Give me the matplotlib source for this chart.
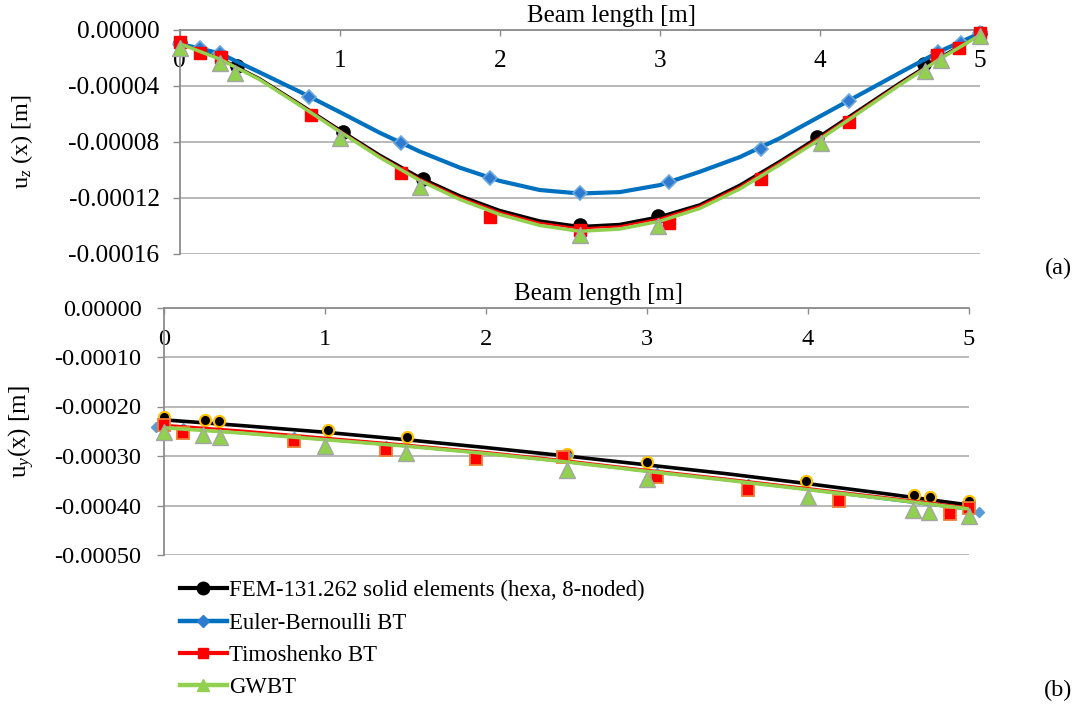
import matplotlib
matplotlib.use("Agg")
import matplotlib.pyplot as plt
from matplotlib.lines import Line2D
from matplotlib.ticker import FuncFormatter

plt.rcParams['font.family'] = ['Liberation Serif', 'DejaVu Serif']
plt.rcParams['mathtext.fontset'] = 'custom'
plt.rcParams['mathtext.rm'] = 'Liberation Serif'
plt.rcParams['mathtext.it'] = 'Liberation Serif:italic'

# ---------------- data: (a) u_z(x) ----------------
x_line_top = [0, 0.25, 0.5, 0.75, 1.0, 1.25, 1.5, 1.75, 2.0, 2.25, 2.5,
              2.75, 3.0, 3.25, 3.5, 3.75, 4.0, 4.25, 4.5, 4.75, 5.0]
fem_line_top = [-9.5e-6, -2.05e-5, -3.5e-5, -5.3e-5, -7.15e-5, -8.95e-5, -1.055e-4,
                -1.185e-4, -1.29e-4, -1.365e-4, -1.405e-4, -1.39e-4, -1.335e-4,
                -1.25e-4, -1.11e-4, -9.4e-5, -7.6e-5, -5.7e-5, -3.8e-5, -2.0e-5, -3.5e-6]
eb_line_top = [-1.0e-5, -1.69e-5, -3.05e-5, -4.43e-5, -5.88e-5, -7.36e-5, -8.7e-5,
               -9.85e-5, -1.08e-4, -1.145e-4, -1.17e-4, -1.16e-4, -1.11e-4, -1.015e-4,
               -9.1e-5, -7.76e-5, -6.2e-5, -4.64e-5, -3.08e-5, -1.55e-5, -2.6e-6]
tim_line_top = [-9.5e-6, -2.07e-5, -3.53e-5, -5.34e-5, -7.2e-5, -9.03e-5, -1.065e-4,
                -1.197e-4, -1.303e-4, -1.38e-4, -1.42e-4, -1.405e-4, -1.35e-4, -1.26e-4,
                -1.122e-4, -9.5e-5, -7.7e-5, -5.78e-5, -3.86e-5, -2.04e-5, -3.7e-6]
gw_line_top = [-1.0e-5, -2.1e-5, -3.57e-5, -5.4e-5, -7.28e-5, -9.12e-5, -1.077e-4,
               -1.212e-4, -1.32e-4, -1.398e-4, -1.44e-4, -1.424e-4, -1.368e-4, -1.277e-4,
               -1.138e-4, -9.65e-5, -7.84e-5, -5.9e-5, -3.95e-5, -2.1e-5, -4.0e-6]

fem_x_top = [0, 0.36, 1.02, 1.52, 2.50, 2.99, 3.98, 4.65, 5.0]
fem_uz = [-9.7e-6, -2.57e-5, -7.29e-5, -1.066e-4, -1.395e-4, -1.329e-4, -7.64e-5, -2.47e-5, -2.6e-6]
eb_x_top = [0, 0.125, 0.25, 0.81, 1.38, 1.94, 2.50, 3.06, 3.63, 4.18, 4.74, 4.88, 5.0]
eb_uz = [-1.0e-5, -1.29e-5, -1.69e-5, -4.79e-5, -8.11e-5, -1.061e-4, -1.169e-4, -1.09e-4,
         -8.52e-5, -5.09e-5, -1.57e-5, -9.7e-6, -2.6e-6]
tim_x_top = [0, 0.125, 0.26, 0.82, 1.38, 1.94, 2.5, 3.06, 3.63, 4.18, 4.73, 4.87, 5.0]
tim_uz = [-9e-6, -1.69e-5, -1.93e-5, -6.1e-5, -1.02e-4, -1.336e-4, -1.43e-4, -1.383e-4,
          -1.066e-4, -6.57e-5, -1.81e-5, -1.29e-5, -2.6e-6]
gw_x_top = [0, 0.25, 0.345, 1.0, 1.5, 2.5, 2.99, 4.01, 4.66, 4.76, 5.0]
gw_uz = [-1.3e-5, -2.4e-5, -3.07e-5, -7.76e-5, -1.12e-4, -1.47e-4, -1.40e-4, -8.11e-5,
         -2.95e-5, -2.16e-5, -4.7e-6]

# ---------------- data: (b) u_y(x) ----------------
x_line_bot = [0, 0.5, 1.0, 1.5, 2.0, 2.5, 3.0, 3.5, 4.0, 4.5, 5.0]
fem_line_bot = [-2.27e-4, -2.39e-4, -2.52e-4, -2.67e-4, -2.83e-4, -3.00e-4, -3.18e-4,
                -3.36e-4, -3.56e-4, -3.77e-4, -3.99e-4]
eb_line_bot = [-2.43e-4, -2.55e-4, -2.68e-4, -2.81e-4, -2.96e-4, -3.13e-4, -3.32e-4,
               -3.50e-4, -3.69e-4, -3.89e-4, -4.09e-4]
tim_line_bot = [-2.37e-4, -2.49e-4, -2.63e-4, -2.77e-4, -2.92e-4, -3.09e-4, -3.28e-4,
                -3.46e-4, -3.65e-4, -3.84e-4, -4.04e-4]
gw_line_bot = [-2.43e-4, -2.54e-4, -2.67e-4, -2.80e-4, -2.95e-4, -3.12e-4, -3.31e-4,
               -3.49e-4, -3.68e-4, -3.87e-4, -4.07e-4]

fem_x_bot = [0, 0.255, 0.34, 1.02, 1.51, 2.5, 3.0, 3.99, 4.66, 4.76, 5.0]
fem_uy = [-2.21e-4, -2.28e-4, -2.30e-4, -2.48e-4, -2.61e-4, -2.95e-4, -3.13e-4, -3.5e-4,
          -3.78e-4, -3.83e-4, -3.9e-4]
eb_x_bot = [-0.05, 0.12, 0.81, 1.38, 1.94, 2.5, 3.06, 3.63, 4.19, 4.88, 5.06]
eb_uy = [-2.41e-4, -2.43e-4, -2.61e-4, -2.79e-4, -2.97e-4, -2.98e-4, -3.35e-4, -3.57e-4,
         -3.81e-4, -4.08e-4, -4.13e-4]
tim_x_bot = [0, 0.12, 0.81, 1.38, 1.94, 2.48, 3.06, 3.63, 4.19, 4.88, 5.0]
tim_uy = [-2.37e-4, -2.53e-4, -2.7e-4, -2.88e-4, -3.07e-4, -3.03e-4, -3.43e-4, -3.68e-4,
          -3.9e-4, -4.17e-4, -4.05e-4]
gw_x_bot = [0, 0.245, 0.35, 1.0, 1.5, 2.5, 3.0, 4.0, 4.65, 4.75, 5.0]
gw_uy = [-2.52e-4, -2.57e-4, -2.61e-4, -2.8e-4, -2.93e-4, -3.28e-4, -3.47e-4, -3.83e-4,
         -4.1e-4, -4.13e-4, -4.21e-4]

x_ticks = [0, 1, 2, 3, 4, 5]
y_ticks_top = [0, -0.00004, -0.00008, -0.00012, -0.00016]
y_ticks_bot = [0, -0.0001, -0.0002, -0.0003, -0.0004, -0.0005]
legend_labels = ["FEM-131.262 solid elements (hexa, 8-noded)", "Euler-Bernoulli BT",
                 "Timoshenko BT", "GWBT"]
x_title = "Beam length [m]"

# ---------------- styling ----------------
C_BLACK = '#000000'
C_BLUE = '#0070C0'
C_BLUE_M = '#2E7BCF'
C_RED = '#FF0000'
C_GREEN = '#92D050'
C_GRID = '#B3B3B3'
C_AXIS = '#8C8C8C'

fig = plt.figure(figsize=(10.8, 7.09), dpi=100)
ax1 = fig.add_axes([179.7 / 1080, 1 - 253.7 / 709, 800 / 1080, 224 / 709])
ax2 = fig.add_axes([164 / 1080, 1 - 555 / 709, 805 / 1080, 247.5 / 709])


def style(ax, yticks, fs, xpad, ypad):
    ax.set_xlim(0, 5)
    ax.set_ylim(yticks[-1], 0)
    ax.set_xticks(x_ticks)
    ax.set_yticks(yticks)
    ax.yaxis.set_major_formatter(FuncFormatter(lambda v, p: f"{v:.5f}" if abs(v) > 1e-12 else "0.00000"))
    for s in ['right', 'bottom']:
        ax.spines[s].set_visible(False)
    for s in ['left', 'top']:
        ax.spines[s].set_color(C_AXIS)
        ax.spines[s].set_linewidth(1.3)
    ax.yaxis.grid(True, color=C_GRID, lw=1.3)
    ax.set_axisbelow(True)
    ax.tick_params(axis='x', top=True, bottom=False, labeltop=True, labelbottom=False,
                   direction='in', length=4, width=1, color=C_AXIS, pad=xpad, labelsize=fs)
    ax.tick_params(axis='y', direction='out', length=5, width=1, color=C_AXIS,
                   labelsize=fs, pad=ypad)
    ax.annotate(x_title, xy=(0.54, 1.0), xycoords='axes fraction', xytext=(0, 10),
                textcoords='offset points', ha='center', va='center', fontsize=17.9)


style(ax1, y_ticks_top, 18.3, -30.5, 9.5)
style(ax2, y_ticks_bot, 17.6, -30.5, 11.2)

# ---- (a) ----
ax1.plot(x_line_top, fem_line_top, color=C_BLACK, lw=2.2, zorder=3)
ax1.plot(fem_x_top, fem_uz, ls='none', marker='o', ms=9.5, mfc=C_BLACK, mec=C_BLACK, zorder=3, clip_on=False)
ax1.plot(x_line_top, eb_line_top, color=C_BLUE, lw=3.0, zorder=4)
ax1.plot(eb_x_top, eb_uz, ls='none', marker='D', ms=7.5, mfc=C_BLUE_M, mec='#6FA8DC', mew=1.2, zorder=4, clip_on=False)
ax1.plot(x_line_top, tim_line_top, color=C_RED, lw=1.6, zorder=5)
ax1.plot(tim_x_top, tim_uz, ls='none', marker='s', ms=9, mfc=C_RED, mec=C_RED, zorder=5, clip_on=False)
ax1.plot(x_line_top, gw_line_top, color=C_GREEN, lw=2.5, zorder=6)
ax1.plot(gw_x_top, gw_uz, ls='none', marker='^', ms=11, mfc=C_GREEN, mec='#A5A5A5', mew=1.0, zorder=6, clip_on=False)
ax1.set_ylabel(r'u$_z$ (x) [m]', fontsize=17.5)
ax1.yaxis.label.set_verticalalignment('center')
ax1.yaxis.set_label_coords((22 - 179.7) / 800, 0.5)

# ---- (b) ----
ax2.plot(x_line_bot, fem_line_bot, color=C_BLACK, lw=2.6, zorder=3)
ax2.plot(fem_x_bot, fem_uy, ls='none', marker='o', ms=8, mfc=C_BLACK, mec='#FFC000', mew=1.5, zorder=3, clip_on=False)
ax2.plot(x_line_bot, eb_line_bot, color=C_BLUE, lw=1.2, zorder=4)
ax2.plot(eb_x_bot, eb_uy, ls='none', marker='D', ms=5.5, mfc='#5B9BD5', mec='#5B9BD5', zorder=4, clip_on=False)
ax2.plot(x_line_bot, tim_line_bot, color=C_RED, lw=1.6, zorder=5)
ax2.plot(tim_x_bot, tim_uy, ls='none', marker='s', ms=9, mfc=C_RED, mec='#ED7D31', mew=1.3, zorder=5, clip_on=False)
ax2.plot(x_line_bot, gw_line_bot, color=C_GREEN, lw=2.6, zorder=6)
ax2.plot(gw_x_bot, gw_uy, ls='none', marker='^', ms=11, mfc=C_GREEN, mec='#A5A5A5', mew=1.0, zorder=6, clip_on=False)
ax2.set_ylabel(r'u$_y$(x) [m]', fontsize=18)
ax2.yaxis.label.set_verticalalignment('center')
ax2.yaxis.set_label_coords((22 - 164) / 805, 0.5)

# legend
handles = [
    Line2D([], [], color=C_BLACK, lw=3, marker='o', ms=9, mfc=C_BLACK, mec=C_BLACK),
    Line2D([], [], color=C_BLUE, lw=3.2, marker='D', ms=6, mfc=C_BLUE_M, mec=C_BLUE_M),
    Line2D([], [], color=C_RED, lw=3, marker='s', ms=7.5, mfc=C_RED, mec=C_RED),
    Line2D([], [], color=C_GREEN, lw=3.2, marker='^', ms=9, mfc=C_GREEN, mec=C_GREEN),
]
fig.legend(handles, legend_labels, loc='upper left', bbox_to_anchor=(180 / 1080, 1 - 580 / 709),
           frameon=False, fontsize=16.4, handlelength=2.06, handletextpad=0.09,
           labelspacing=0.5, borderpad=0, borderaxespad=0)

fig.text(1058 / 1080, 1 - 268 / 709, '(a)', ha='center', va='center', fontsize=17.5)
fig.text(1058 / 1080, 1 - 690 / 709, '(b)', ha='center', va='center', fontsize=17.5)

fig.savefig('out.png', dpi=100)
